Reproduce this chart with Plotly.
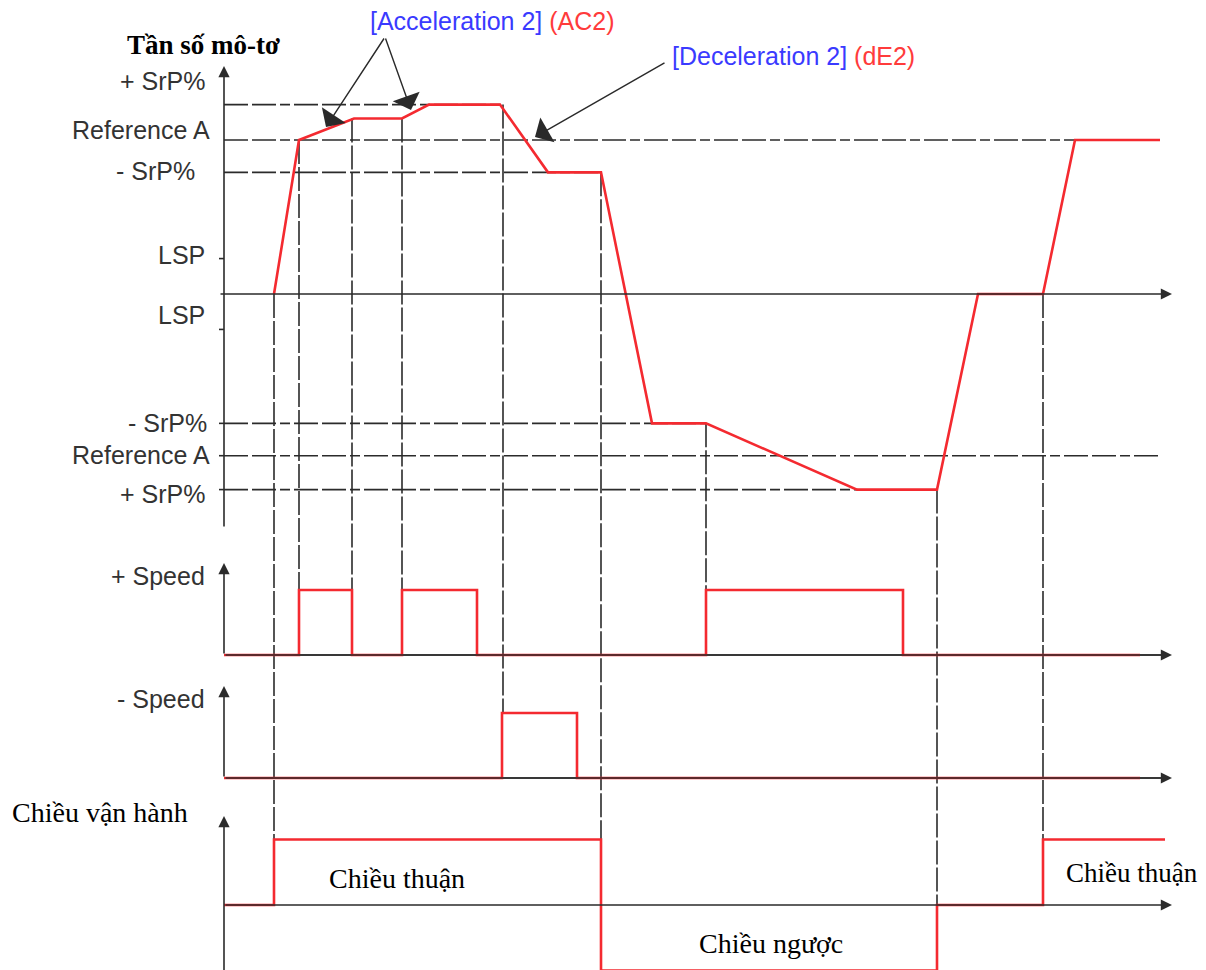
import plotly.graph_objects as go

# ---------------- data ----------------
# motor frequency curve (time, frequency; Reference A = 100)
freq_t = [274, 299, 354, 402, 429, 500, 548, 601, 652, 706, 857, 937, 978, 1043, 1075, 1160]
freq_v = [0, 100, 114, 114, 123, 123, 79, 79, -84, -84, -127, -127, 0, 0, 100, 100]

# frequency axis labels
level_labels = ["+ SrP%", "Reference A", "- SrP%", "LSP", "LSP", "- SrP%", "Reference A", "+ SrP%"]
level_values = [123, 100, 79, 23, -23, -84, -105, -127]

# horizontal dashed reference levels and where they stop
guide_levels = [123, 100, 79, -84, -105, -127]
guide_ends = [503, 1075, 601, 706, 1162, 857]

# "+ Speed" input
plus_t = [224, 299, 352, 402, 477, 706, 903, 1140]
plus_v = [0, 1, 0, 1, 0, 1, 0, 0]

# "- Speed" input
minus_t = [224, 502, 577, 1140]
minus_v = [0, 1, 0, 0]

# direction of rotation
dir_t = [224, 274, 601, 937, 1043, 1165]
dir_v = [0, 1, -1, 0, 1, 1]
dir_labels = ["Chiều thuận", "Chiều ngược", "Chiều thuận"]

# vertical dashed event lines: time, start (freq value), end panel, end value
event_t = [274, 299, 352, 402, 503, 601, 706, 937, 1043]
event_from = [0, 100, 114, 114, 123, 79, -84, -127, 0]
event_to_panel = ["y4", "y2", "y2", "y2", "y3", "y4", "y2", "y4", "y4"]
event_to_val = [1, 1, 1, 1, 1, 1, 1, 0, 1]

# ---------------- geometry / style ----------------
W, H = 1206, 970
OFF = 8  # page body margin of the html page
PANELS = {"y": (294, 1.54), "y2": (655, 65), "y3": (778, 65), "y4": (905, 65.5)}
AXX = 224
XEND = 1172
RED = "#f42a30"
BLK = "#2b2b2b"
SANS = "Liberation Sans, Arial, sans-serif"
SERIF = "Liberation Serif, Times New Roman, serif"
FS_SANS = 25
FS_SERIF = 28


def to_px(ax, v):
    z, k = PANELS[ax]
    return z - v * k


def from_px(ax, p):
    z, k = PANELS[ax]
    return (z - p) / k


def px(x):
    return (x - OFF) / W


def py(y):
    return 1 - (y - OFF) / H


fig = go.Figure()

# horizontal dashed guides
for lv, te in zip(guide_levels, guide_ends):
    fig.add_trace(go.Scatter(x=[AXX, te], y=[lv, lv], mode="lines", yaxis="y",
                             line=dict(color=BLK, width=1.6, dash="24px,4px,24px,4px,10px,4px"),
                             hoverinfo="skip", showlegend=False))

# vertical dashed event lines
for t, v0, pan, v1 in zip(event_t, event_from, event_to_panel, event_to_val):
    yend = from_px("y", to_px(pan, v1))
    fig.add_trace(go.Scatter(x=[t, t], y=[v0, yend], mode="lines", yaxis="y",
                             line=dict(color=BLK, width=1.6, dash="24px,3px"),
                             hoverinfo="skip", showlegend=False))

# baselines (black, under red)
for ax in ["y2", "y3"]:
    fig.add_trace(go.Scatter(x=[AXX, XEND - 8], y=[0, 0], mode="lines", yaxis=ax,
                             line=dict(color=BLK, width=1.6), hoverinfo="skip", showlegend=False))

# small ticks on the frequency axis
for lv in [23, -23, -84, -105, -127]:
    fig.add_trace(go.Scatter(x=[AXX - 5, AXX], y=[lv, lv], mode="lines", yaxis="y",
                             line=dict(color=BLK, width=1.6), hoverinfo="skip", showlegend=False))

# red signals
fig.add_trace(go.Scatter(x=freq_t, y=freq_v, mode="lines", yaxis="y",
                         line=dict(color=RED, width=2.6), hoverinfo="skip", showlegend=False))
fig.add_trace(go.Scatter(x=plus_t, y=plus_v, mode="lines", yaxis="y2", line_shape="hv",
                         line=dict(color=RED, width=2.6), hoverinfo="skip", showlegend=False))
fig.add_trace(go.Scatter(x=minus_t, y=minus_v, mode="lines", yaxis="y3", line_shape="hv",
                         line=dict(color=RED, width=2.6), hoverinfo="skip", showlegend=False))
fig.add_trace(go.Scatter(x=dir_t, y=dir_v, mode="lines", yaxis="y4", line_shape="hv",
                         line=dict(color=RED, width=2.6), hoverinfo="skip", showlegend=False))

ann = []


def arrow_line(x0, p0, x1, p1, ax="y", head=2, size=1.4, width=1.6, color=BLK):
    # line from (x0,p0) to (x1,p1) in pixel y, arrow head at (x1,p1)
    ann.append(dict(x=x1, y=from_px(ax, p1), xref="x", yref=ax,
                    ax=x0, ay=from_px(ax, p0), axref="x", ayref=ax,
                    text="", showarrow=True, arrowhead=head, arrowsize=size,
                    arrowwidth=width, arrowcolor=color, standoff=0, startstandoff=0))


# axes
arrow_line(AXX, 528, AXX, 66)
arrow_line(219, to_px("y", 0), XEND, to_px("y", 0))
arrow_line(AXX, to_px("y2", 0), AXX, 563)
arrow_line(AXX, to_px("y2", 0), XEND, to_px("y2", 0))
arrow_line(AXX, to_px("y3", 0), AXX, 686)
arrow_line(AXX, to_px("y3", 0), XEND, to_px("y3", 0))
arrow_line(AXX, 975, AXX, 816)
arrow_line(AXX, to_px("y4", 0), XEND, to_px("y4", 0))

# pointer arrows
arrow_line(385, 37, 326, 127, head=1, size=3.4, width=1.4, color="#2a2a2a")
arrow_line(385, 37, 411, 110, head=1, size=3.4, width=1.4, color="#2a2a2a")
arrow_line(666, 62, 535, 137, head=1, size=3.4, width=1.4, color="#2a2a2a")

# frequency labels
label_pos = [(207, 81), (212, 130), (197, 171), (207, 255), (207, 315), (209, 423), (212, 455), (207, 494)]
for txt, (xr, yc) in zip(level_labels, label_pos):
    ann.append(dict(x=px(xr), y=py(yc), xref="paper", yref="paper", text=txt,
                    xanchor="right", yanchor="middle", showarrow=False,
                    font=dict(family=SANS, size=FS_SANS, color="#333333")))

for txt, (xr, yc) in zip(["+ Speed", "- Speed"], [(207, 576), (207, 699)]):
    ann.append(dict(x=px(xr), y=py(yc), xref="paper", yref="paper", text=txt,
                    xanchor="right", yanchor="middle", showarrow=False,
                    font=dict(family=SANS, size=FS_SANS, color="#333333")))

ann.append(dict(x=px(125), y=py(45), xref="paper", yref="paper", text="<b>Tần số mô-tơ</b>",
                xanchor="left", yanchor="middle", showarrow=False,
                font=dict(family=SERIF, size=27, color="#000000")))
ann.append(dict(x=px(10), y=py(812), xref="paper", yref="paper", text="Chiều vận hành",
                xanchor="left", yanchor="middle", showarrow=False,
                font=dict(family=SERIF, size=FS_SERIF, color="#000000")))
for txt, (xl, yc), fs in zip(dir_labels, [(327, 878), (697, 943), (1064, 873)], [FS_SERIF, FS_SERIF, 27]):
    ann.append(dict(x=px(xl), y=py(yc), xref="paper", yref="paper", text=txt,
                    xanchor="left", yanchor="middle", showarrow=False,
                    font=dict(family=SERIF, size=fs, color="#000000")))

ann.append(dict(x=px(368), y=py(21), xref="paper", yref="paper",
                text="<span style='color:#3a3aff'>[Acceleration 2]</span> <span style='color:#ff3b3b'>(AC2)</span>",
                xanchor="left", yanchor="middle", showarrow=False,
                font=dict(family=SANS, size=FS_SANS)))
ann.append(dict(x=px(670), y=py(56), xref="paper", yref="paper",
                text="<span style='color:#3a3aff'>[Deceleration 2]</span> <span style='color:#ff3b3b'>(dE2)</span>",
                xanchor="left", yanchor="middle", showarrow=False,
                font=dict(family=SANS, size=FS_SANS)))

axis_common = dict(visible=False, fixedrange=True)
layout = dict(
    width=W, height=H, margin=dict(l=0, r=0, t=0, b=0),
    paper_bgcolor="white", plot_bgcolor="white", showlegend=False,
    xaxis=dict(range=[OFF, W + OFF], domain=[0, 1], **axis_common),
    annotations=ann,
)
for ax in ["y", "y2", "y3", "y4"]:
    key = "yaxis" if ax == "y" else "yaxis" + ax[1:]
    d = dict(range=[from_px(ax, H + OFF), from_px(ax, OFF)], domain=[0, 1], **axis_common)
    if ax != "y":
        d["overlaying"] = "y"
    layout[key] = d

fig.update_layout(**layout)
fig.write_html("out.html")
